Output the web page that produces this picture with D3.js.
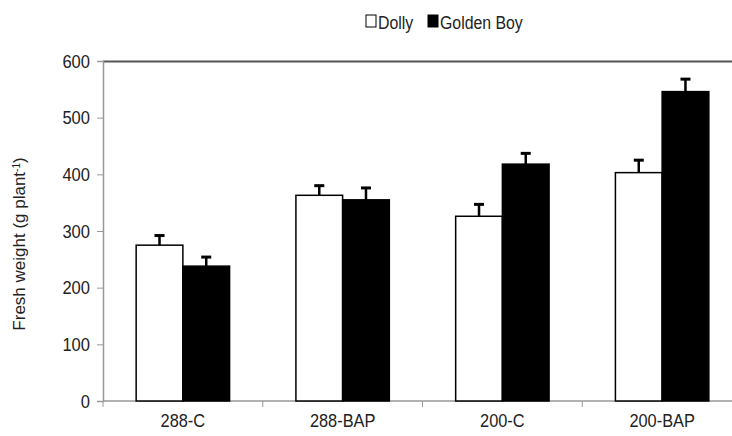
<!DOCTYPE html>
<html>
<head>
<meta charset="utf-8">
<script src="https://cdn.jsdelivr.net/npm/d3@7/dist/d3.min.js"></script>
<style>
  html, body { margin: 0; padding: 0; background: #fff; }
  svg { display: block; font-family: "Liberation Sans", Arial, sans-serif; }
</style>
</head>
<body>
<svg id="chart" width="732" height="436"></svg>
<script>
// Fresh weight per plant for two cultivars under four treatments
const categories = ["288-C", "288-BAP", "200-C", "200-BAP"];
const seriesNames = ["Dolly", "Golden Boy"];
const dollyValues = [275, 363, 326, 403];
const goldenBoyValues = [238, 355, 418, 546];
const dollyErrors = [17, 17, 21, 22];
const goldenBoyErrors = [16, 21, 19, 22];
const yTicks = [0, 100, 200, 300, 400, 500, 600];

const svg = d3.select("#chart");
const plotLeft = 103, plotTop = 61, plotBottom = 401, plotRight = 742;

// Narrow the glyphs of a text selection to a fraction of their natural width
function condense(sel, k) {
  sel.each(function () {
    const w = this.getComputedTextLength();
    d3.select(this).attr("textLength", w * k).attr("lengthAdjust", "spacingAndGlyphs");
  });
}

const x = d3.scaleBand().domain(categories).range([plotLeft, plotRight]).paddingInner(0).paddingOuter(0);
const inner = d3.scaleBand().domain(seriesNames).range([0, x.bandwidth()]).paddingInner(0).paddingOuter(0.71);
const y = d3.scaleLinear().domain([0, 600]).range([plotBottom, plotTop]);

const rows = categories.map((c, i) => ({
  cat: c,
  items: [
    { name: "Dolly", value: dollyValues[i], err: dollyErrors[i] },
    { name: "Golden Boy", value: goldenBoyValues[i], err: goldenBoyErrors[i] }
  ]
}));

// Top frame line
svg.append("line")
  .attr("x1", plotLeft).attr("x2", 732)
  .attr("y1", y(600) + 0.5).attr("y2", y(600) + 0.5)
  .attr("stroke", "#555").attr("stroke-width", 2);

// Y axis
const yAxis = svg.append("g")
  .attr("transform", `translate(${plotLeft},0)`)
  .call(d3.axisLeft(y).tickValues(yTicks).tickSize(6).tickPadding(7));
yAxis.select(".domain").attr("stroke", "#999").attr("stroke-width", 1.5);
yAxis.selectAll(".tick line").attr("stroke", "#999");
yAxis.selectAll(".tick text").attr("font-size", 19).attr("fill", "#222")
  .attr("font-family", "Liberation Sans, Arial, sans-serif")
  .call(condense, 0.87);

// X axis with ticks on category boundaries
const xAxisG = svg.append("g").attr("transform", `translate(0,${plotBottom})`);
xAxisG.append("line").attr("x1", plotLeft).attr("x2", 732).attr("y1", 0).attr("y2", 0)
  .attr("stroke", "#999").attr("stroke-width", 1.5);
xAxisG.selectAll("line.tk").data(categories).join("line").attr("class", "tk")
  .attr("x1", d => x(d)).attr("x2", d => x(d))
  .attr("y1", 0).attr("y2", 6).attr("stroke", "#999");
xAxisG.selectAll("text").data(categories).join("text")
  .attr("x", d => x(d) + x.bandwidth() / 2).attr("y", 26)
  .attr("text-anchor", "middle").attr("font-size", 19).attr("fill", "#222")
  .text(d => d)
  .call(condense, 0.86);

// Bars
const groups = svg.selectAll("g.grp").data(rows).join("g").attr("class", "grp")
  .attr("transform", d => `translate(${x(d.cat)},0)`);

groups.selectAll("rect").data(d => d.items).join("rect")
  .attr("x", d => inner(d.name))
  .attr("y", d => y(d.value))
  .attr("width", inner.bandwidth())
  .attr("height", d => y(0) - y(d.value))
  .attr("fill", d => d.name === "Dolly" ? "#fff" : "#000")
  .attr("stroke", "#000").attr("stroke-width", 1.5);

// Error bars (upper only)
const eb = groups.selectAll("g.err").data(d => d.items).join("g").attr("class", "err");
eb.append("line")
  .attr("x1", d => inner(d.name) + inner.bandwidth() / 2)
  .attr("x2", d => inner(d.name) + inner.bandwidth() / 2)
  .attr("y1", d => y(d.value)).attr("y2", d => y(d.value + d.err))
  .attr("stroke", "#000").attr("stroke-width", 2.5);
eb.append("line")
  .attr("x1", d => inner(d.name) + inner.bandwidth() / 2 - 5)
  .attr("x2", d => inner(d.name) + inner.bandwidth() / 2 + 5)
  .attr("y1", d => y(d.value + d.err)).attr("y2", d => y(d.value + d.err))
  .attr("stroke", "#000").attr("stroke-width", 3);

// Legend
const legend = svg.append("g").attr("font-size", 18).attr("fill", "#222");
const legendItems = [
  { name: seriesNames[0], fill: "#fff", x: 366 },
  { name: seriesNames[1], fill: "#000", x: 428 }
];
legendItems.forEach(it => {
  legend.append("rect").attr("x", it.x).attr("y", 15).attr("width", 10).attr("height", 12)
    .attr("fill", it.fill).attr("stroke", "#000").attr("stroke-width", 1);
  legend.append("text").attr("x", it.x + 12).attr("y", 29).text(it.name)
    .call(condense, 0.88);
});

// Y axis title
const yTitle = svg.append("text")
  .attr("transform", `translate(25,244) rotate(-90)`)
  .attr("text-anchor", "middle").attr("font-size", 17).attr("fill", "#222");
yTitle.append("tspan").text("Fresh weight (g plant");
yTitle.append("tspan").attr("baseline-shift", "super").attr("font-size", 10).text("-1");
yTitle.append("tspan").text(")");
</script>
</body>
</html>
